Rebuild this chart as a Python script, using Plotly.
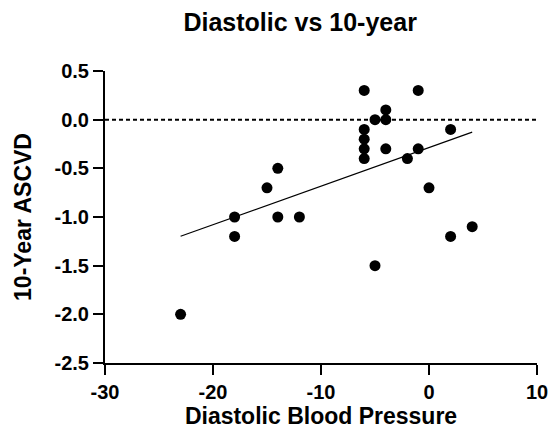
import numpy as np
import plotly.graph_objects as go

diastolic = [-23, -18, -18, -15, -14, -14, -12, -6, -6, -6, -6, -6, -5, -5,
             -4, -4, -4, -2, -1, -1, 0, 2, 2, 4]
ascvd = [-2.0, -1.0, -1.2, -0.7, -0.5, -1.0, -1.0, 0.3, -0.1, -0.2, -0.3, -0.4,
         0.0, -1.5, 0.1, 0.0, -0.3, -0.4, 0.3, -0.3, -0.7, -0.1, -1.2, -1.1]
x_ticks = [-30, -20, -10, 0, 10]
y_ticks = [0.5, 0.0, -0.5, -1.0, -1.5, -2.0, -2.5]

slope, intercept = np.polyfit(diastolic, ascvd, 1)
fit_x = [min(diastolic), max(diastolic)]
fit_y = [slope * v + intercept for v in fit_x]

font = "Arial, Liberation Sans, Helvetica, sans-serif"

fig = go.Figure()
fig.add_trace(go.Scatter(x=[-30, 10], y=[0, 0], mode="lines",
                         line=dict(color="black", width=2, dash="4px,3px"),
                         hoverinfo="skip"))
fig.add_trace(go.Scatter(x=fit_x, y=fit_y, mode="lines",
                         line=dict(color="black", width=1.2)))
fig.add_trace(go.Scatter(x=diastolic, y=ascvd, mode="markers",
                         marker=dict(color="black", size=11)))

fig.update_layout(
    width=560, height=432,
    margin=dict(l=105, r=20, t=71, b=69),
    paper_bgcolor="white", plot_bgcolor="white",
    showlegend=False,
    font=dict(family=font, color="black", weight="bold"),
    title=dict(text="Diastolic vs 10-year", x=0.536, xanchor="center",
               y=0.948, yanchor="middle",
               font=dict(size=25, family=font, weight="bold")),
)
fig.update_xaxes(
    range=[-30, 10], tickvals=x_ticks, ticktext=[f"<b>{v}</b>" for v in x_ticks],
    showline=True, linecolor="black", linewidth=2, showgrid=False, zeroline=False,
    ticks="outside", tickwidth=2, ticklen=10, tickcolor="black",
    tickfont=dict(size=20, weight="bold"),
    title=dict(text="Diastolic Blood Pressure",
               font=dict(size=23, weight="bold"), standoff=0),
)
fig.update_yaxes(
    range=[-2.5, 0.5], tickvals=y_ticks,
    ticktext=[f"<b>{v:.1f}</b>" for v in y_ticks],
    showline=True, linecolor="black", linewidth=2, showgrid=False, zeroline=False,
    ticks="outside", tickwidth=2, ticklen=10, tickcolor="black",
    tickfont=dict(size=20, weight="bold"),
    title=dict(text="10-Year ASCVD",
               font=dict(size=23, weight="bold"), standoff=16),
)

fig.write_html("out.html")
